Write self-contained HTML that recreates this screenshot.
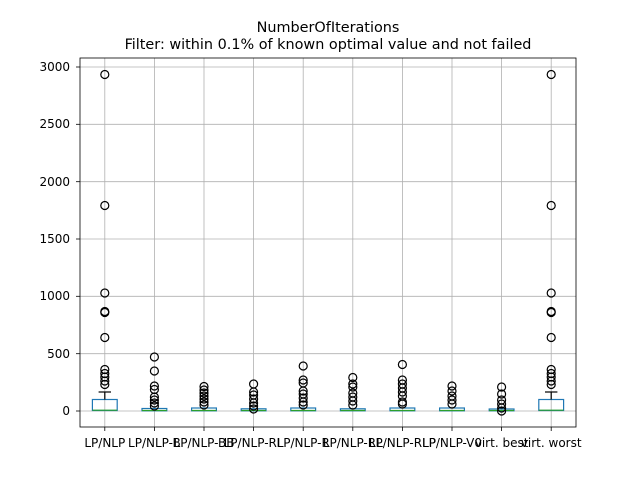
<!DOCTYPE html>
<html><head><meta charset="utf-8"><style>body{margin:0;background:#fff}svg{display:block}text{font-family:"DejaVu Sans","Liberation Sans",sans-serif}</style></head>
<body>
<svg width="640" height="480" xmlns="http://www.w3.org/2000/svg">
<rect width="640" height="480" fill="#fff"/>
<text x="328" y="32" font-size="14.4" text-anchor="middle">NumberOfIterations</text>
<text x="328" y="49" font-size="14.4" text-anchor="middle">Filter: within 0.1% of known optimal value and not failed</text>
<g stroke="#b0b0b0" stroke-width="0.8">
<line x1="80" x2="576" y1="411" y2="411"/><line x1="80" x2="576" y1="353.7" y2="353.7"/><line x1="80" x2="576" y1="296.3" y2="296.3"/><line x1="80" x2="576" y1="239" y2="239"/><line x1="80" x2="576" y1="181.7" y2="181.7"/><line x1="80" x2="576" y1="124.3" y2="124.3"/><line x1="80" x2="576" y1="67" y2="67"/>
<line x1="104.8" x2="104.8" y1="58" y2="427"/><line x1="154.4" x2="154.4" y1="58" y2="427"/><line x1="204" x2="204" y1="58" y2="427"/><line x1="253.6" x2="253.6" y1="58" y2="427"/><line x1="303.2" x2="303.2" y1="58" y2="427"/><line x1="352.8" x2="352.8" y1="58" y2="427"/><line x1="402.4" x2="402.4" y1="58" y2="427"/><line x1="452" x2="452" y1="58" y2="427"/><line x1="501.6" x2="501.6" y1="58" y2="427"/><line x1="551.2" x2="551.2" y1="58" y2="427"/>
</g>
<g font-size="12" text-anchor="end">
<text x="70" y="415">0</text><text x="70" y="358">500</text><text x="70" y="300">1000</text><text x="70" y="243">1500</text><text x="70" y="186">2000</text><text x="70" y="128">2500</text><text x="70" y="71">3000</text>
</g>
<g stroke="#000" stroke-width="0.8">
<line x1="76" x2="80" y1="411" y2="411"/><line x1="76" x2="80" y1="353.7" y2="353.7"/><line x1="76" x2="80" y1="296.3" y2="296.3"/><line x1="76" x2="80" y1="239" y2="239"/><line x1="76" x2="80" y1="181.7" y2="181.7"/><line x1="76" x2="80" y1="124.3" y2="124.3"/><line x1="76" x2="80" y1="67" y2="67"/>
</g>
<g id="boxes" fill="none" stroke-width="1.2">
<!-- box 1 & 10 -->
<rect x="92.4" y="399.5" width="24.8" height="11" stroke="#1f77b4"/>
<line x1="104.8" x2="104.8" y1="399.5" y2="392" stroke="#000"/><line x1="98.6" x2="111" y1="392" y2="392" stroke="#000"/>
<line x1="92.4" x2="117.2" y1="410.2" y2="410.2" stroke="#2ca02c"/>
<rect x="538.8" y="399.5" width="24.8" height="11" stroke="#1f77b4"/>
<line x1="551.2" x2="551.2" y1="399.5" y2="392" stroke="#000"/><line x1="545" x2="557.4" y1="392" y2="392" stroke="#000"/>
<line x1="538.8" x2="563.6" y1="410.2" y2="410.2" stroke="#2ca02c"/>
</g>
<g fill="none" stroke-width="1.2">
<rect x="142" y="408.5" width="24.8" height="2.3" stroke="#1f77b4"/><line x1="142" x2="166.8" y1="410.5" y2="410.5" stroke="#2ca02c"/>
<rect x="191.6" y="408" width="24.8" height="2.8" stroke="#1f77b4"/><line x1="191.6" x2="216.4" y1="410.5" y2="410.5" stroke="#2ca02c"/>
<rect x="241.2" y="408.8" width="24.8" height="2" stroke="#1f77b4"/><line x1="241.2" x2="266" y1="410.5" y2="410.5" stroke="#2ca02c"/>
<rect x="290.8" y="408" width="24.8" height="2.8" stroke="#1f77b4"/><line x1="290.8" x2="315.6" y1="410.5" y2="410.5" stroke="#2ca02c"/>
<rect x="340.4" y="408.8" width="24.8" height="2" stroke="#1f77b4"/><line x1="340.4" x2="365.2" y1="410.5" y2="410.5" stroke="#2ca02c"/>
<rect x="390" y="408" width="24.8" height="2.8" stroke="#1f77b4"/><line x1="390" x2="414.8" y1="410.5" y2="410.5" stroke="#2ca02c"/>
<rect x="439.6" y="408" width="24.8" height="2.8" stroke="#1f77b4"/><line x1="439.6" x2="464.4" y1="410.5" y2="410.5" stroke="#2ca02c"/>
<rect x="489.2" y="409" width="24.8" height="1.8" stroke="#1f77b4"/><line x1="489.2" x2="514" y1="410.5" y2="410.5" stroke="#2ca02c"/>
</g>
<g fill="none" stroke="#000" stroke-width="1.2">
<!-- outliers box1 -->
<circle cx="104.8" cy="74.5" r="4"/><circle cx="104.8" cy="205.5" r="4"/><circle cx="104.8" cy="293" r="4"/><circle cx="104.8" cy="311.5" r="4"/><circle cx="104.8" cy="312.5" r="4"/><circle cx="104.8" cy="337.5" r="4"/><circle cx="104.8" cy="369.5" r="4"/><circle cx="104.8" cy="373.5" r="4"/><circle cx="104.8" cy="377" r="4"/><circle cx="104.8" cy="381" r="4"/><circle cx="104.8" cy="384.5" r="4"/>
<circle cx="551.2" cy="74.5" r="4"/><circle cx="551.2" cy="205.5" r="4"/><circle cx="551.2" cy="293" r="4"/><circle cx="551.2" cy="311.5" r="4"/><circle cx="551.2" cy="312.5" r="4"/><circle cx="551.2" cy="337.5" r="4"/><circle cx="551.2" cy="369.5" r="4"/><circle cx="551.2" cy="373.5" r="4"/><circle cx="551.2" cy="377" r="4"/><circle cx="551.2" cy="381" r="4"/><circle cx="551.2" cy="384.5" r="4"/>
<!-- box2 -->
<circle cx="154.4" cy="357" r="4"/><circle cx="154.4" cy="371" r="4"/><circle cx="154.4" cy="386" r="4"/><circle cx="154.4" cy="389.5" r="4"/><circle cx="154.4" cy="397" r="4"/><circle cx="154.4" cy="400" r="4"/><circle cx="154.4" cy="403" r="4"/><circle cx="154.4" cy="406" r="4"/>
<!-- box3 -->
<circle cx="204" cy="386.5" r="4"/><circle cx="204" cy="390" r="4"/><circle cx="204" cy="393" r="4"/><circle cx="204" cy="396" r="4"/><circle cx="204" cy="399" r="4"/><circle cx="204" cy="402" r="4"/><circle cx="204" cy="405" r="4"/>
<!-- box4 -->
<circle cx="253.6" cy="384" r="4"/><circle cx="253.6" cy="392" r="4"/><circle cx="253.6" cy="395" r="4"/><circle cx="253.6" cy="399" r="4"/><circle cx="253.6" cy="403" r="4"/><circle cx="253.6" cy="406" r="4"/><circle cx="253.6" cy="409" r="4"/>
<!-- box5 -->
<circle cx="303.2" cy="366" r="4"/><circle cx="303.2" cy="380" r="4"/><circle cx="303.2" cy="383" r="4"/><circle cx="303.2" cy="391" r="4"/><circle cx="303.2" cy="394" r="4"/><circle cx="303.2" cy="398" r="4"/><circle cx="303.2" cy="402" r="4"/><circle cx="303.2" cy="405" r="4"/>
<!-- box6 -->
<circle cx="352.8" cy="377.5" r="4"/><circle cx="352.8" cy="384" r="4"/><circle cx="352.8" cy="387" r="4"/><circle cx="352.8" cy="393" r="4"/><circle cx="352.8" cy="397" r="4"/><circle cx="352.8" cy="401" r="4"/><circle cx="352.8" cy="405" r="4"/>
<!-- box7 -->
<circle cx="402.4" cy="364.5" r="4"/><circle cx="402.4" cy="380" r="4"/><circle cx="402.4" cy="384" r="4"/><circle cx="402.4" cy="388" r="4"/><circle cx="402.4" cy="392" r="4"/><circle cx="402.4" cy="396" r="4"/><circle cx="402.4" cy="402" r="4"/><circle cx="402.4" cy="404" r="4"/>
<!-- box8 -->
<circle cx="452" cy="386" r="4"/><circle cx="452" cy="391" r="4"/><circle cx="452" cy="396" r="4"/><circle cx="452" cy="400" r="4"/><circle cx="452" cy="404" r="4"/>
<!-- box9 -->
<circle cx="501.6" cy="387" r="4"/><circle cx="501.6" cy="394" r="4"/><circle cx="501.6" cy="400" r="4"/><circle cx="501.6" cy="404" r="4"/><circle cx="501.6" cy="408" r="4"/><circle cx="501.6" cy="411" r="4"/>
</g>
<rect x="80" y="58" width="496" height="369" fill="none" stroke="#000" stroke-width="0.8"/>
<g stroke="#000" stroke-width="0.8">
<line x1="104.8" x2="104.8" y1="427" y2="431"/><line x1="154.4" x2="154.4" y1="427" y2="431"/><line x1="204" x2="204" y1="427" y2="431"/><line x1="253.6" x2="253.6" y1="427" y2="431"/><line x1="303.2" x2="303.2" y1="427" y2="431"/><line x1="352.8" x2="352.8" y1="427" y2="431"/><line x1="402.4" x2="402.4" y1="427" y2="431"/><line x1="452" x2="452" y1="427" y2="431"/><line x1="501.6" x2="501.6" y1="427" y2="431"/><line x1="551.2" x2="551.2" y1="427" y2="431"/>
</g>
<g font-size="12" text-anchor="middle">
<text x="104.8" y="447">LP/NLP</text><text x="154.4" y="447">LP/NLP-B</text><text x="204" y="447">LP/NLP-BB</text><text x="253.6" y="447">LP/NLP-RL</text><text x="303.2" y="447">LP/NLP-R</text><text x="352.8" y="447">LP/NLP-RL</text><text x="402.4" y="447">LP/NLP-RLP</text><text x="452" y="447">LP/NLP-V0</text><text x="501.6" y="447">virt. best</text><text x="551.2" y="447">virt. worst</text>
</g>
</svg>
</body></html>
